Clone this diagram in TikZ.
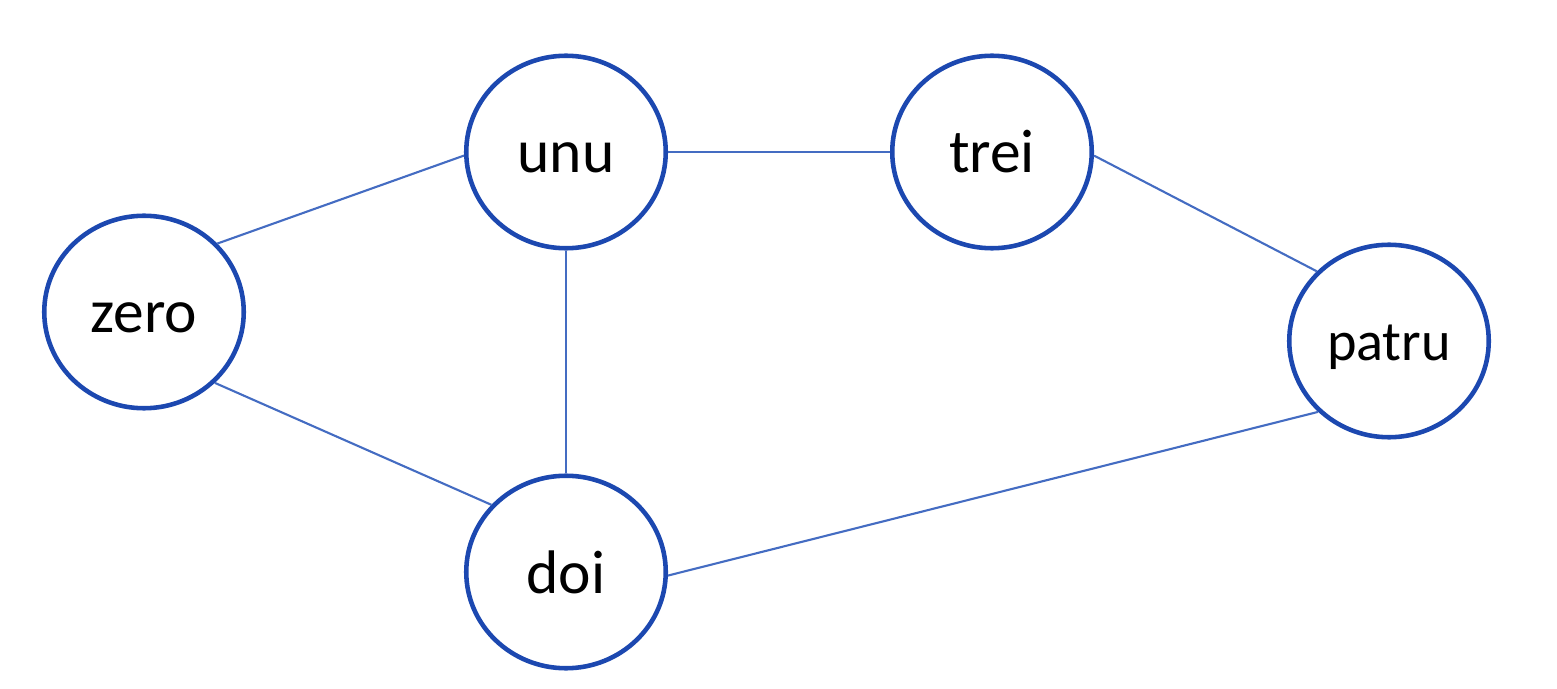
\documentclass[tikz,border=0pt]{standalone}
\usepackage{fontspec}
\setmainfont{Carlito}
\usepackage{tikz}
\usetikzlibrary{shapes.geometric}
\usepackage{xcolor}
\definecolor{ringblue}{RGB}{28,72,176}
\definecolor{edgeblue}{RGB}{68,108,194}

\begin{document}
\begin{tikzpicture}[
    vertex/.style={ellipse, draw=ringblue, line width=2.6pt, fill=white, inner sep=0pt,
        minimum width=3.99cm, minimum height=3.85cm, text height=0.84cm, text depth=0pt,
        font=\fontsize{35}{42}\selectfont},
    link/.style={edgeblue, line width=1.2pt}
]
\useasboundingbox (0,0) rectangle (31.14,13.76);

\node[vertex] (zero)  at (2.88,7.52)   {zero};
\node[vertex] (unu)   at (11.32,10.72) {unu};
\node[vertex] (trei)  at (19.84,10.72) {trei};
\node[vertex, text height=0.78cm, font=\fontsize{32}{38}\selectfont] (patru) at (27.78,6.94) {patru};
\node[vertex] (doi)   at (11.32,2.32)  {doi};

\draw[link] (zero.43) -- (unu.182);
\draw[link] (zero.-45) -- (doi.138);
\draw[link] (unu.south) -- (doi.north);
\draw[link] (unu.east) -- (trei.west);
\draw[link] (trei.-2) -- (patru.136);
\draw[link] (doi.-2) -- (patru.225);
\end{tikzpicture}
\end{document}
